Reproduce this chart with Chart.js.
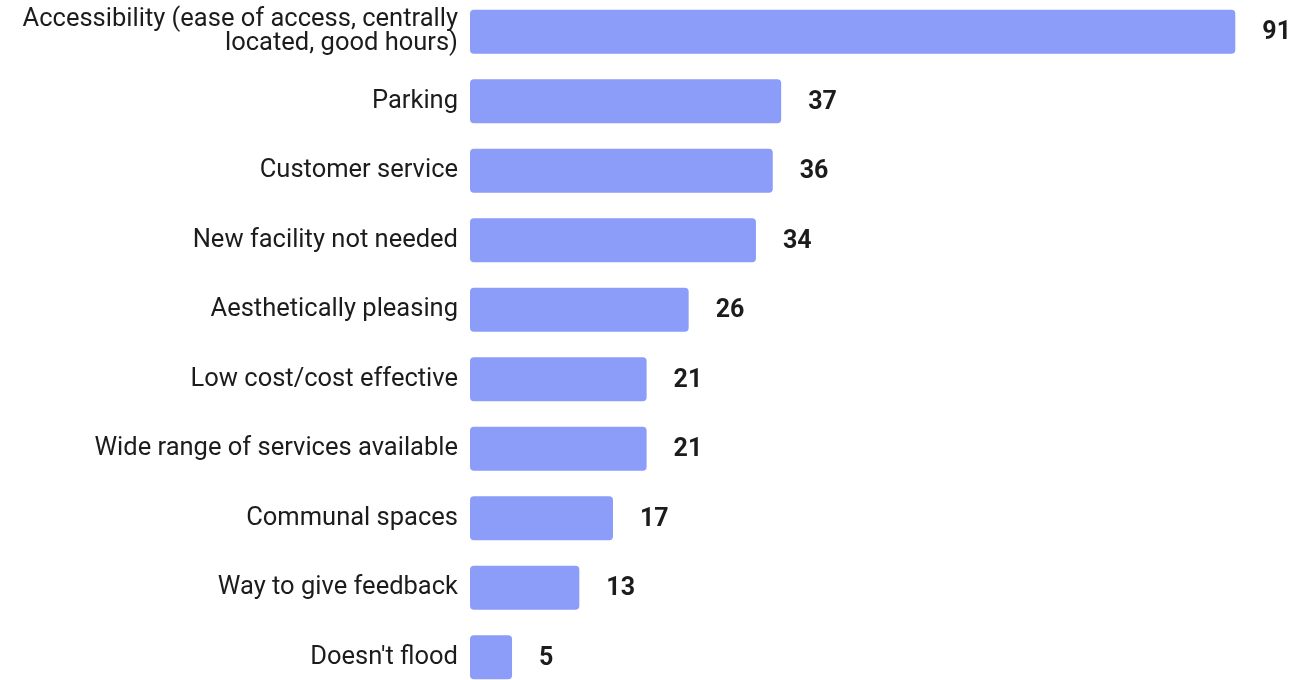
<!DOCTYPE html>
<html>
<head>
<meta charset="utf-8">
<script src="https://cdn.jsdelivr.net/npm/chart.js@4"></script>
<style>
  html, body { margin: 0; padding: 0; background: #fff; overflow: hidden; }
  #chart { position: absolute; left: 0; top: -3px; }
</style>
</head>
<body>
<canvas id="chart" width="1316" height="695"></canvas>
<script>
const categories = [
  ['Accessibility (ease of access, centrally', 'located, good hours)'],
  'Parking',
  'Customer service',
  'New facility not needed',
  'Aesthetically pleasing',
  'Low cost/cost effective',
  'Wide range of services available',
  'Communal spaces',
  'Way to give feedback',
  "Doesn't flood"
];
const counts = [91, 37, 36, 34, 26, 21, 21, 17, 13, 5];

// bold numbers just past each bar end
const valueLabels = {
  id: 'valueLabels',
  afterDatasetsDraw(chart) {
    const ctx = chart.ctx;
    const meta = chart.getDatasetMeta(0);
    ctx.save();
    ctx.font = 'bold 25px Roboto';
    ctx.fillStyle = '#1c1c1c';
    ctx.textAlign = 'left';
    ctx.textBaseline = 'middle';
    meta.data.forEach((bar, i) => {
      ctx.fillText(String(counts[i]), bar.x + 27, bar.y + 1);
    });
    ctx.restore();
  }
};

new Chart(document.getElementById('chart'), {
  type: 'bar',
  data: {
    labels: categories,
    datasets: [{
      data: counts,
      backgroundColor: '#8b9cf9',
      borderRadius: 4,
      borderSkipped: false,
      categoryPercentage: 0.9,
      barPercentage: 0.705
    }]
  },
  options: {
    indexAxis: 'y',
    responsive: false,
    animation: false,
    layout: { padding: { left: 0, right: 5, top: 0, bottom: 0 } },
    plugins: {
      legend: { display: false },
      tooltip: { enabled: false }
    },
    scales: {
      x: {
        display: false,
        min: 0,
        max: 100
      },
      y: {
        grid: { display: false, drawTicks: false },
        border: { display: false },
        afterFit(scale) {
          scale.width = 470;
          scale.paddingTop = 0;
          scale.paddingBottom = 0;
        },
        ticks: {
          padding: 12,
          color: '#1c1c1c',
          font: { family: 'Roboto', size: 25.5, lineHeight: 0.95 }
        }
      }
    }
  },
  plugins: [valueLabels]
});
</script>
</body>
</html>
